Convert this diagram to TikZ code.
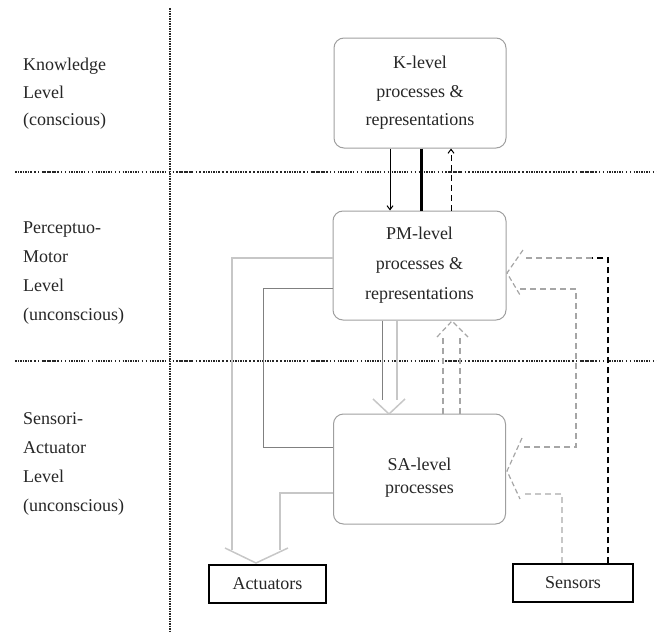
\documentclass[tikz,border=0pt]{standalone}
\usepackage{fontspec}
\setmainfont{Liberation Serif}
\usetikzlibrary{arrows.meta}
\begin{document}
\begin{tikzpicture}[x=1pt,y=-1pt,
  lvl/.style={font=\fontsize{18}{29}\selectfont, align=left, anchor=north west, inner sep=0pt, text=black!85},
  procbox/.style={draw=gray!75, line width=1pt, rounded corners=10pt, minimum width=172pt, minimum height=110pt, align=center, inner sep=0pt, text=black!85},
  iobox/.style={draw=black, line width=1.5pt, minimum width=118pt, minimum height=38pt, font=\fontsize{18}{22}\selectfont, inner sep=0pt, text=black!85},
  hsep/.style={draw=black!85, line width=1.3pt, dash pattern=on 1.6pt off 0.9pt on 1.6pt off 0.9pt on 1.6pt off 0.9pt on 1.6pt off 0.9pt on 1.6pt off 0.9pt on 1.6pt off 0.9pt on 1.6pt off 2.5pt on 1.4pt off 2.5pt on 1.4pt off 2.5pt},
  vsep/.style={draw=black!85, line width=1.5pt, dash pattern=on 1.5pt off 1pt},
  ltline/.style={draw=black!22, line width=1.8pt},
  dkline/.style={draw=black!50, line width=1pt},
  gdash/.style={draw=black!35, line width=1.2pt, dash pattern=on 6pt off 4pt},
  lgdash/.style={draw=black!22, line width=2pt, dash pattern=on 6pt off 4pt},
  bdash/.style={draw=black, line width=1.3pt, dash pattern=on 6pt off 4pt},
  barb/.style={-{Straight Barb[length=4pt,width=6pt]}}
]
\useasboundingbox (0,0) rectangle (657,632);

% separators
\draw[vsep] (170,8) -- (170,632);
\draw[hsep] (15,172) -- (657,172);
\draw[hsep] (15,361) -- (657,361);

% level labels
\node[lvl, font=\fontsize{18}{27.5}\selectfont] (lk) at (23,58) {Knowledge\\Level\\(conscious)};
\node[lvl] (lpm) at (23,222) {Perceptuo-\\Motor\\Level\\(unconscious)};
\node[lvl] (lsa) at (23,412) {Sensori-\\Actuator\\Level\\(unconscious)};

% process boxes
\node[procbox, font=\fontsize{18}{28.5}\selectfont] (k) at (420,93) {K-level\\processes \&\\representations};
\node[procbox, minimum width=173pt, minimum height=109pt, font=\fontsize{18}{30}\selectfont] (pm) at (419.5,265.5) {PM-level\\processes \&\\representations};
\node[procbox] (sa) at (419.5,469) {};
\node[align=center, inner sep=0pt, font=\fontsize{18}{23}\selectfont, text=black!85] (satext) at (419.5,478) {SA-level\\processes};

% io boxes
\node[iobox, minimum width=117pt] (act) at (267.5,584) {Actuators};
\node[iobox, minimum width=120pt] (sen) at (573,583) {Sensors};

% K <-> PM
\draw[line width=1pt, barb] ([xshift=-30pt]k.south) -- ([xshift=-29.5pt]pm.north);
\draw[line width=3pt] ([xshift=1pt]k.south) -- ([xshift=1.5pt]pm.north);
\draw[bdash, line width=1pt, barb] ([xshift=31.5pt]pm.north) -- ([xshift=31pt]k.south);

% to actuators (wide open arrow)
\coordinate (atip) at (256,563);
\draw[ltline] (pm.west |- 0,258) -- (232,258) -- (232,550);
\draw[ltline] (sa.west |- 0,493) -- (280,493) -- (280,550);
\draw[ltline, line width=1.5pt, line join=miter] (225,548) -- (atip) -- (288,548);
\draw[dkline] (pm.west |- 0,288) -- (263,288) -- (263,447) -- (sa.west |- 0,447);

% PM -> SA wide arrow
\coordinate (dtip) at (389,414);
\draw[dkline] (pm.south -| 382,0) -- (382,400);
\draw[ltline] (pm.south -| 397,0) -- (397,400);
\draw[ltline, line width=1.5pt] (373,399) -- (dtip) -- (405,399);

% SA -> PM dashed wide arrow
\coordinate (utip) at (452,321);
\draw[gdash] (sa.north -| 443,0) -- (443,337);
\draw[gdash] (sa.north -| 460,0) -- (460,337);
\draw[gdash, dash pattern=on 5pt off 3pt] (437,337) -- (utip) -- (468,337);

% sensor inputs
\coordinate (ptip) at (507,273);
\coordinate (stip) at (507,471);
\draw[bdash] (sen.north -| 608,0) -- (608,258) -- (592,258);
\draw[gdash] (592,258) -- (523,258);
\draw[gdash, dash pattern=on 5pt off 3pt] (523,250) -- (ptip) -- (520,295);
\draw[gdash] (520,289) -- (576,289) -- (576,447) -- (522,447);
\draw[gdash, dash pattern=on 5pt off 3pt] (522,438) -- (stip) -- (520,499);
\draw[lgdash] (sen.north -| 562,0) -- (562,494) -- (522,494);
\end{tikzpicture}
\end{document}
